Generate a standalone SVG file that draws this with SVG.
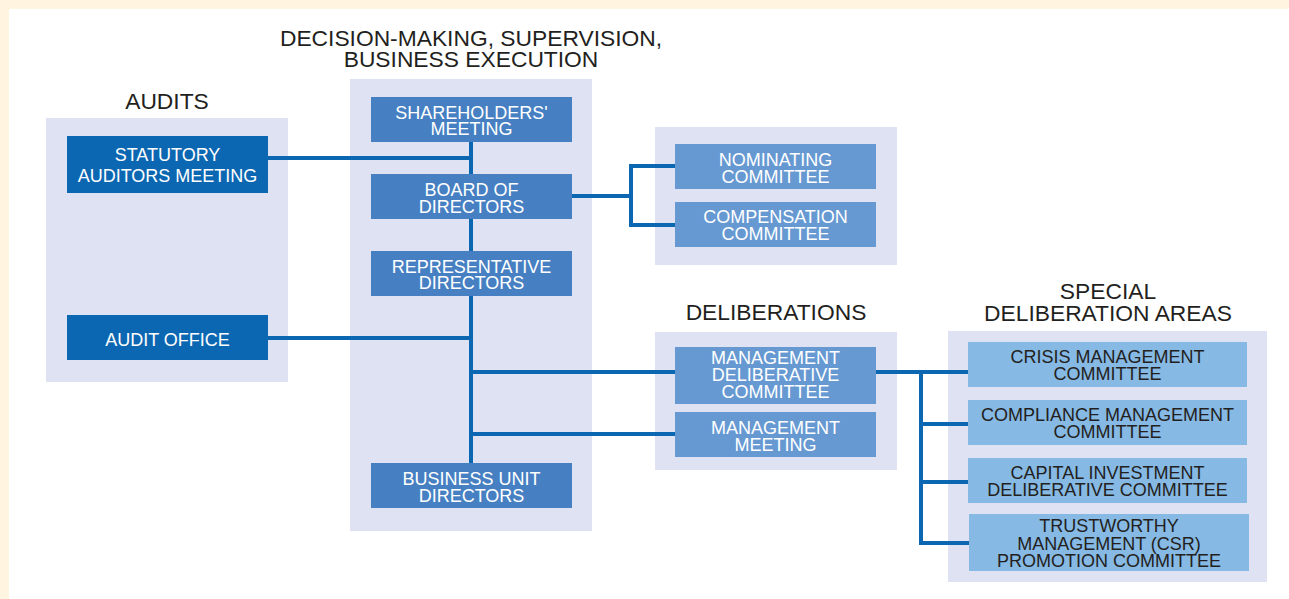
<svg xmlns="http://www.w3.org/2000/svg" width="1289" height="599" viewBox="0 0 1289 599">
<style>
  .panel{fill:#dfe2f3}
  .b1{fill:#0c67b2}
  .b2{fill:#4680c2}
  .b3{fill:#6699d2}
  .b4{fill:#86b9e4}
  text{font-family:"Liberation Sans",Arial,sans-serif;text-anchor:middle}
  .t{font-size:18px;fill:#ffffff}
  .td{font-size:18px;fill:#231f20}
  .h{font-size:22.8px;fill:#231f20}
  .ln{fill:none;stroke:#0c67b2;stroke-width:4;stroke-linejoin:miter}
</style>
<rect x="0" y="0" width="1289" height="599" fill="#ffffff"/>
<rect x="0" y="0" width="1289" height="9" fill="#fef4e0"/>
<rect x="0" y="0" width="9" height="599" fill="#fef4e0"/>

<g id="panels">
  <rect class="panel" x="46" y="118" width="242" height="264"/>
  <rect class="panel" x="350" y="79" width="242" height="452"/>
  <rect class="panel" x="655" y="127" width="242" height="138"/>
  <rect class="panel" x="655" y="332" width="242" height="138"/>
  <rect class="panel" x="948" y="331" width="319" height="251"/>
</g>

<g id="titles">
  <text class="h" x="167" y="109">AUDITS</text>
  <text class="h" x="471" y="46">DECISION-MAKING, SUPERVISION,</text>
  <text class="h" x="471" y="67">BUSINESS EXECUTION</text>
  <text class="h" x="776" y="320">DELIBERATIONS</text>
  <text class="h" x="1108" y="299">SPECIAL</text>
  <text class="h" x="1108" y="321">DELIBERATION AREAS</text>
</g>

<g id="connectors">
  <path class="ln" d="M268 158 H471"/>
  <path class="ln" d="M471 140 V465"/>
  <path class="ln" d="M572 196 H631"/>
  <path class="ln" d="M675 166 H631 V225 H675"/>
  <path class="ln" d="M268 338 H471"/>
  <path class="ln" d="M471 372 H675"/>
  <path class="ln" d="M471 434 H675"/>
  <path class="ln" d="M876 372 H968"/>
  <path class="ln" d="M921 372 V543 H969"/>
  <path class="ln" d="M921 424 H968"/>
  <path class="ln" d="M921 482 H968"/>
</g>

<g id="statutory">
  <rect class="b1" x="67" y="136" width="201" height="57"/>
  <text class="t" x="167.5" y="161">STATUTORY</text>
  <text class="t" x="167.5" y="181.5">AUDITORS MEETING</text>
</g>
<g id="auditoffice">
  <rect class="b1" x="67" y="315" width="201" height="45"/>
  <text class="t" x="167.5" y="346">AUDIT OFFICE</text>
</g>

<g id="shareholders">
  <rect class="b2" x="371" y="97" width="201" height="45"/>
  <text class="t" x="471.5" y="118.5">SHAREHOLDERS'</text>
  <text class="t" x="471.5" y="135">MEETING</text>
</g>
<g id="board">
  <rect class="b2" x="371" y="174" width="201" height="45"/>
  <text class="t" x="471.5" y="196">BOARD OF</text>
  <text class="t" x="471.5" y="212.7">DIRECTORS</text>
</g>
<g id="representative">
  <rect class="b2" x="371" y="251" width="201" height="45"/>
  <text class="t" x="471.5" y="272.7">REPRESENTATIVE</text>
  <text class="t" x="471.5" y="289.3">DIRECTORS</text>
</g>
<g id="businessunit">
  <rect class="b2" x="371" y="463" width="201" height="45"/>
  <text class="t" x="471.5" y="485">BUSINESS UNIT</text>
  <text class="t" x="471.5" y="501.7">DIRECTORS</text>
</g>

<g id="nominating">
  <rect class="b3" x="675" y="144" width="201" height="45"/>
  <text class="t" x="775.5" y="166">NOMINATING</text>
  <text class="t" x="775.5" y="182.7">COMMITTEE</text>
</g>
<g id="compensation">
  <rect class="b3" x="675" y="202" width="201" height="45"/>
  <text class="t" x="775.5" y="222.7">COMPENSATION</text>
  <text class="t" x="775.5" y="240">COMMITTEE</text>
</g>

<g id="mdc">
  <rect class="b3" x="675" y="347" width="201" height="57"/>
  <text class="t" x="775.5" y="364">MANAGEMENT</text>
  <text class="t" x="775.5" y="381">DELIBERATIVE</text>
  <text class="t" x="775.5" y="398">COMMITTEE</text>
</g>
<g id="mm">
  <rect class="b3" x="675" y="412" width="201" height="45"/>
  <text class="t" x="775.5" y="434">MANAGEMENT</text>
  <text class="t" x="775.5" y="450.7">MEETING</text>
</g>

<g id="crisis">
  <rect class="b4" x="968" y="342" width="279" height="45"/>
  <text class="td" x="1107.5" y="362.7">CRISIS MANAGEMENT</text>
  <text class="td" x="1107.5" y="380">COMMITTEE</text>
</g>
<g id="compliance">
  <rect class="b4" x="968" y="400" width="279" height="45"/>
  <text class="td" x="1107.5" y="421">COMPLIANCE MANAGEMENT</text>
  <text class="td" x="1107.5" y="438.3">COMMITTEE</text>
</g>
<g id="capital">
  <rect class="b4" x="968" y="458" width="279" height="45"/>
  <text class="td" x="1107.5" y="479.3">CAPITAL INVESTMENT</text>
  <text class="td" x="1107.5" y="495.7">DELIBERATIVE COMMITTEE</text>
</g>
<g id="trustworthy">
  <rect class="b4" x="969" y="514" width="280" height="57"/>
  <text class="td" x="1109" y="532.3">TRUSTWORTHY</text>
  <text class="td" x="1109" y="549.5">MANAGEMENT (CSR)</text>
  <text class="td" x="1109" y="566.7">PROMOTION COMMITTEE</text>
</g>
</svg>
